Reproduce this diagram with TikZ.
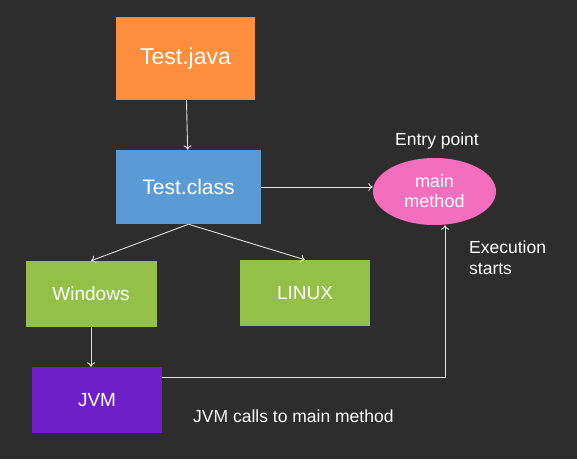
\documentclass[tikz,border=0pt]{standalone}
\usepackage{fontspec}
\setmainfont{Liberation Sans}
\usepackage{tikz}
\usetikzlibrary{shapes.geometric}
\usetikzlibrary{arrows.meta}
\definecolor{bg}{HTML}{2D2D2D}
\definecolor{javaorange}{HTML}{FC8E3E}
\definecolor{classblue}{HTML}{5B9BD5}
\definecolor{osgreen}{HTML}{93C047}
\definecolor{mainpink}{HTML}{F46EBE}
\definecolor{jvmpurple}{HTML}{6F1FC9}
\definecolor{linegray}{HTML}{E0E0E0}

\begin{document}
\begin{tikzpicture}[x=1pt,y=-1pt,
  every node/.style={text=white},
  box/.style={rectangle,inner sep=0pt,minimum width=131pt,minimum height=66pt,font=\fontsize{19}{22}\selectfont},
  note/.style={inner sep=0pt,font=\fontsize{17.5}{21}\selectfont},
  arrow/.style={-{To[length=4.5pt,width=8pt]},draw=linegray,line width=0.9pt}]
  \fill[bg] (0,0) rectangle (577,459);

  \node[box,fill=javaorange,minimum width=139pt,minimum height=83pt,font=\fontsize{23}{26}\selectfont] (tjava) at (185.5,58.5) {Test.java};
  \node[box,fill=classblue,minimum width=145pt,minimum height=74pt,font=\fontsize{21}{24}\selectfont] (tclass) at (188.5,187) {Test.class};
  \node[ellipse,fill=mainpink,inner sep=0pt,minimum width=123pt,minimum height=67pt,align=center,font=\fontsize{18}{20}\selectfont] (mainm) at (434.5,191.5) {main\\method};
  \node[note] (entry) at (437,141) {Entry point};

  \node[box,fill=osgreen] (win) at (91,294) {Windows};
  \node[box,fill=osgreen,minimum width=130pt] (linux) at (305,293) {LINUX};
  \node[box,fill=jvmpurple,minimum width=130pt] (jvm) at (97,400) {JVM};

  \node[note,anchor=north west,align=left] (exec) at (469,241) {Execution\\starts};
  \node[note,anchor=west] (calls) at (193,416) {JVM calls to main method};

  \coordinate (bend) at (445,377);

  \draw[arrow] (tjava) -- (tclass);
  \draw[arrow] (tclass.east) -- (mainm.west |- tclass.east);
  \draw[arrow] (tclass.south) -- (win.north);
  \draw[arrow] (tclass.south) -- (linux.north);
  \draw[arrow] (win) -- (win |- jvm.north);
  \draw[arrow] (jvm.east |- bend) -- (bend) -- (mainm.south -| bend);
\end{tikzpicture}
\end{document}
